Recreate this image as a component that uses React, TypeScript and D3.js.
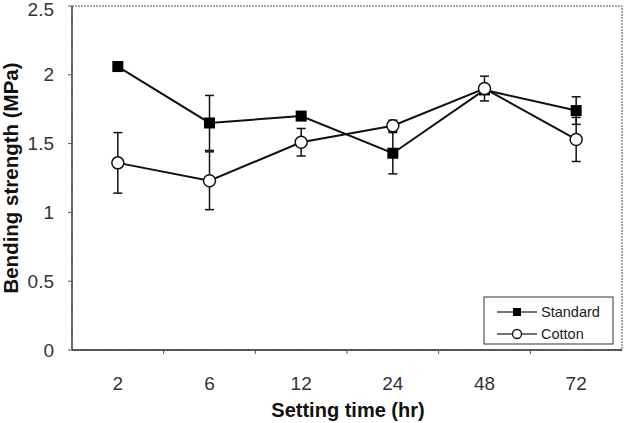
import React from "react";
import * as d3 from "d3";

const categories = ["2", "6", "12", "24", "48", "72"];
const standardValues = [2.06, 1.65, 1.7, 1.43, 1.89, 1.74];
const standardErrors = [0.03, 0.2, 0.02, 0.15, 0.03, 0.1];
const cottonValues = [1.36, 1.23, 1.51, 1.63, 1.9, 1.53];
const cottonErrors = [0.22, 0.21, 0.1, 0.04, 0.09, 0.16];
const yTicks = [0, 0.5, 1, 1.5, 2, 2.5];

const W = 624;
const H = 423;
const left = 72;
const right = 622;
const top = 6;
const bottom = 350;

export default function App() {
  const x = d3.scaleBand<string>().domain(categories).range([left, right]);
  const y = d3.scaleLinear().domain([0, 2.5]).range([bottom, top]);
  const cx = (c: string) => (x(c) as number) + x.bandwidth() / 2;
  const line = d3
    .line<number>()
    .x((_, i) => cx(categories[i]))
    .y((d) => y(d));
  const font = "'Liberation Sans', Arial, sans-serif";
  const axisColor = "#555";

  const errBars = (vals: number[], errs: number[], key: string) =>
    vals.map((v, i) => {
      const px = cx(categories[i]);
      const y1 = y(v + errs[i]);
      const y2 = y(v - errs[i]);
      return (
        <g key={key + i} stroke="#111" strokeWidth={1.5}>
          <line x1={px} x2={px} y1={y1} y2={y2} />
          <line x1={px - 4.5} x2={px + 4.5} y1={y1} y2={y1} />
          <line x1={px - 4.5} x2={px + 4.5} y1={y2} y2={y2} />
        </g>
      );
    });

  return (
    <svg
      width={W}
      height={H}
      style={{ position: "absolute", left: 0, top: 0, background: "#fff" }}
      fontFamily={font}
    >
      <rect x={0} y={0} width={W} height={H} fill="#fff" />
      {/* frame */}
      <rect
        x={left}
        y={top}
        width={right - left}
        height={bottom - top}
        fill="none"
        stroke={axisColor}
        strokeWidth={1}
        strokeDasharray="2,1"
      />
      <line x1={left} x2={left} y1={top} y2={bottom} stroke="#333" strokeWidth={1.3} />
      <line x1={left} x2={right} y1={bottom} y2={bottom} stroke="#333" strokeWidth={1.3} />
      {/* y ticks */}
      {yTicks.map((t) => (
        <g key={"y" + t}>
          <line x1={left - 4} x2={left} y1={y(t)} y2={y(t)} stroke={axisColor} />
          <text
            x={54}
            y={Math.max(y(t), 9)}
            dy="0.35em"
            textAnchor="end"
            fontSize={19}
            fill="#333"
          >
            {t}
          </text>
        </g>
      ))}
      {/* x ticks */}
      {categories.map((c, i) => (
        <g key={"x" + c}>
          {i > 0 && (
            <line
              x1={x(c) as number}
              x2={x(c) as number}
              y1={bottom}
              y2={bottom + 4}
              stroke={axisColor}
            />
          )}
          <text x={cx(c)} y={390} textAnchor="middle" fontSize={19} fill="#333">
            {c}
          </text>
        </g>
      ))}
      <text
        x={348}
        y={417}
        textAnchor="middle"
        fontSize={20}
        fontWeight="bold"
        fill="#111"
      >
        Setting time (hr)
      </text>
      <text
        transform={`translate(18, 178) rotate(-90)`}
        textAnchor="middle"
        fontSize={20.5}
        fontWeight="bold"
        fill="#111"
      >
        Bending strength (MPa)
      </text>
      {/* error bars */}
      {errBars(standardValues, standardErrors, "se")}
      {errBars(cottonValues, cottonErrors, "ce")}
      {/* lines */}
      <path d={line(standardValues) || ""} fill="none" stroke="#111" strokeWidth={2} />
      <path d={line(cottonValues) || ""} fill="none" stroke="#111" strokeWidth={2} />
      {/* markers */}
      {standardValues.map((v, i) => (
        <rect
          key={"sm" + i}
          x={cx(categories[i]) - 5.5}
          y={y(v) - 5.5}
          width={11}
          height={11}
          fill="#000"
        />
      ))}
      {cottonValues.map((v, i) => (
        <circle
          key={"cm" + i}
          cx={cx(categories[i])}
          cy={y(v)}
          r={6}
          fill="#fff"
          stroke="#111"
          strokeWidth={1.5}
        />
      ))}
      {/* legend */}
      <rect x={484} y={297} width={129} height={47} fill="#fff" stroke="#333" strokeWidth={1} />
      <line x1={497} x2={537} y1={312} y2={312} stroke="#444" strokeWidth={1.5} />
      <rect x={513} y={308} width={8} height={8} fill="#000" />
      <text x={541} y={312} dy="0.35em" fontSize={14.5} fill="#222">
        Standard
      </text>
      <line x1={497} x2={537} y1={334} y2={334} stroke="#444" strokeWidth={1.5} />
      <circle cx={517} cy={334} r={4.5} fill="#fff" stroke="#111" strokeWidth={1.3} />
      <text x={541} y={334} dy="0.35em" fontSize={14.5} fill="#222">
        Cotton
      </text>
    </svg>
  );
}
